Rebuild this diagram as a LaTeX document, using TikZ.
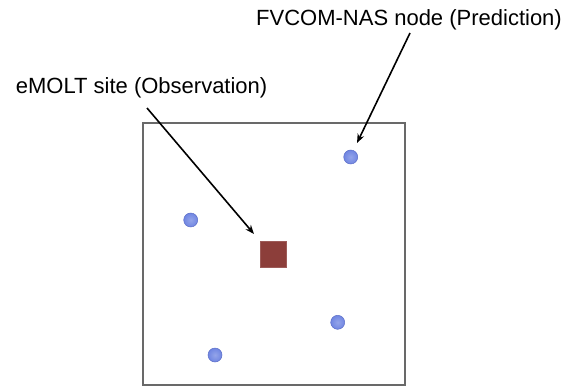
\documentclass[tikz,border=0pt]{standalone}
\usepackage{fontspec}
\setmainfont{Liberation Sans}
\usetikzlibrary{arrows.meta}
\definecolor{dotblue}{RGB}{112,134,226}
\definecolor{dotedge}{RGB}{92,110,200}
\definecolor{obsred}{RGB}{140,62,58}
\definecolor{boxgray}{RGB}{105,105,105}
\tikzset{
  lbl/.style={font=\fontsize{22}{26}\selectfont, inner sep=0pt},
  fvnode/.style={circle, minimum size=14pt, inner sep=0pt, shade, inner color=dotblue!75!white, outer color=dotblue, draw=dotedge, line width=0.5pt},
  obs/.style={rectangle, minimum size=26pt, inner sep=0pt, fill=obsred, draw=obsred!85!white, line width=0.6pt},
  pointer/.style={-{Stealth[length=9pt,width=7pt]}, line width=1.6pt, black},
}
\begin{document}
\begin{tikzpicture}[x=1pt,y=-1pt]
\useasboundingbox (0,0) rectangle (575,388);
\draw[boxgray, line width=1.4pt] (143,123) rectangle (405,385);
\node[fvnode] (n1) at (350.7,157) {};
\node[fvnode] (n2) at (190.7,220) {};
\node[fvnode] (n3) at (337.7,322.3) {};
\node[fvnode] (n4) at (215,355) {};
\node[obs] (site) at (273,254) {};
\node[lbl, anchor=base west] (fv) at (256,25) {FVCOM-NAS node (Prediction)};
\node[lbl, anchor=base east] (em) at (267.5,93) {eMOLT site (Observation)};
\coordinate (fvs) at (410,33);
\coordinate (fvt) at (357,143);
\coordinate (ems) at (147,108);
\coordinate (emt) at (254,234);
\draw[pointer] (fvs) -- (fvt);
\draw[pointer] (ems) -- (emt);
\end{tikzpicture}
\end{document}
